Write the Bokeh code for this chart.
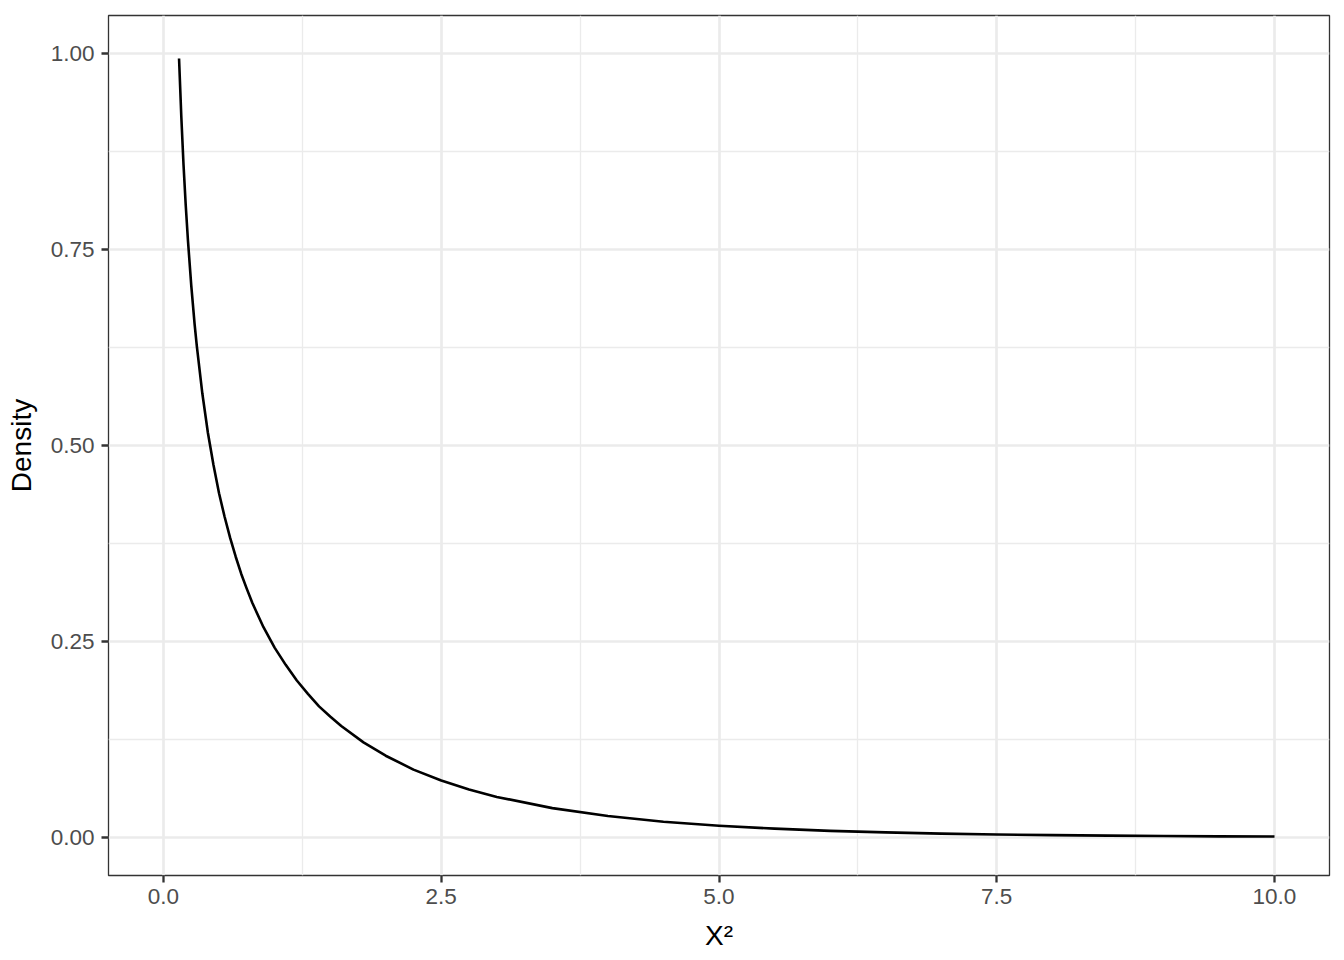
from bokeh.plotting import figure
from bokeh.models import FixedTicker, ColumnDataSource, NumeralTickFormatter
from bokeh.embed import file_html
from bokeh.resources import INLINE

# Chi-square (df = 1) density curve
chi2 = [0.14, 0.16, 0.18, 0.2, 0.22, 0.25, 0.28, 0.3, 0.35, 0.4, 0.45, 0.5, 0.55,
        0.6, 0.65, 0.7, 0.75, 0.8, 0.9, 1.0, 1.1, 1.2, 1.3, 1.4, 1.5, 1.6, 1.8,
        2.0, 2.25, 2.5, 2.75, 3.0, 3.5, 4.0, 4.5, 5.0, 5.5, 6.0, 6.5, 7.0, 7.5,
        8.0, 8.5, 9.0, 9.5, 10.0]
density = [0.994, 0.921, 0.859, 0.807, 0.762, 0.704, 0.655, 0.627, 0.566, 0.516,
           0.475, 0.439, 0.409, 0.382, 0.358, 0.336, 0.317, 0.299, 0.268, 0.242,
           0.220, 0.200, 0.183, 0.167, 0.154, 0.142, 0.121, 0.104, 0.0863, 0.0723,
           0.0608, 0.0514, 0.0371, 0.0270, 0.0198, 0.0146, 0.0109, 0.0081, 0.0061,
           0.0046, 0.0034, 0.0026, 0.0020, 0.0015, 0.0011, 0.0009]

x_major = [0.0, 2.5, 5.0, 7.5, 10.0]
x_minor = [1.25, 3.75, 6.25, 8.75]
y_major = [0.0, 0.25, 0.5, 0.75, 1.0]
y_minor = [0.125, 0.375, 0.625, 0.875]

FONT = "Liberation Sans"

p = figure(width=1340, height=956, output_backend="svg", toolbar_location=None,
           x_range=(-0.495, 10.495), y_range=(-0.0489, 1.0489),
           min_border_left=108, min_border_right=11, min_border_top=15, min_border_bottom=81,
           x_axis_label="Χ²", y_axis_label="Density")

p.background_fill_color = "white"
p.border_fill_color = "white"
p.outline_line_color = "#333333"
p.outline_line_width = 1.3

src = ColumnDataSource(dict(x=chi2, y=density))
p.line("x", "y", source=src, line_color="black", line_width=2.6, line_join="round")

p.xaxis.ticker = FixedTicker(ticks=x_major, minor_ticks=x_minor)
p.yaxis.ticker = FixedTicker(ticks=y_major, minor_ticks=y_minor)
p.xaxis.formatter = NumeralTickFormatter(format="0.0")
p.yaxis.formatter = NumeralTickFormatter(format="0.00")

for g in (p.xgrid, p.ygrid):
    g.grid_line_color = "#EBEBEB"
    g.grid_line_width = 2.7
    g.minor_grid_line_color = "#EBEBEB"
    g.minor_grid_line_width = 1.3

for ax in (p.xaxis, p.yaxis):
    ax.axis_line_color = None
    ax.major_tick_line_color = "#333333"
    ax.major_tick_line_width = 2.3
    ax.major_tick_out = 7
    ax.major_tick_in = 0
    ax.minor_tick_line_color = None
    ax.major_label_text_font = FONT
    ax.major_label_text_font_size = "22.5px"
    ax.major_label_text_color = "#4D4D4D"
    ax.axis_label_text_font = FONT
    ax.axis_label_text_font_size = "28px"
    ax.axis_label_text_font_style = "normal"
    ax.axis_label_text_color = "black"

p.xaxis.major_label_standoff = 6
p.yaxis.major_label_standoff = 7
p.xaxis.axis_label_standoff = 13
p.yaxis.axis_label_standoff = 11

open("out.html", "w").write(file_html(p, INLINE))
